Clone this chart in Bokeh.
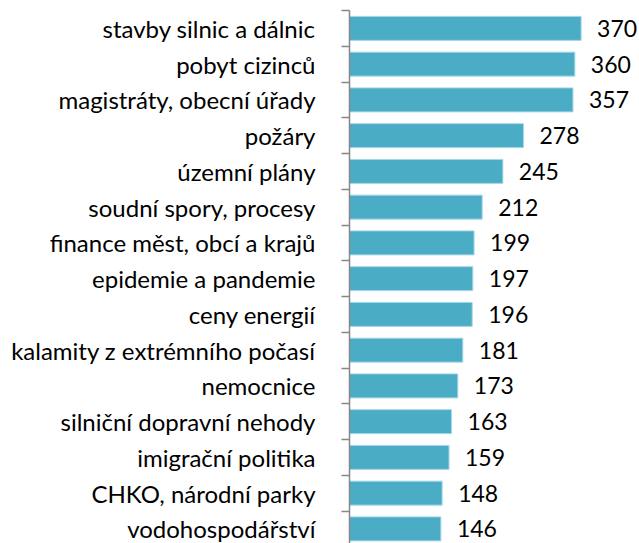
from bokeh.plotting import figure
from bokeh.models import Range1d, FixedTicker, ColumnDataSource
from bokeh.core.properties import value
from bokeh.embed import file_html
from bokeh.resources import INLINE

categories = [
    "stavby silnic a dálnic",
    "pobyt cizinců",
    "magistráty, obecní úřady",
    "požáry",
    "územní plány",
    "soudní spory, procesy",
    "finance měst, obcí a krajů",
    "epidemie a pandemie",
    "ceny energií",
    "kalamity z extrémního počasí",
    "nemocnice",
    "silniční dopravní nehody",
    "imigrační politika",
    "CHKO, národní parky",
    "vodohospodářství",
]
values = [370, 360, 357, 278, 245, 212, 199, 197, 196, 181, 173, 163, 159, 148, 146]

FONT = "Lato"
W, H = 639, 543
LEFT = 349
TOP = 10
PITCH = 35.75
PX_PER_UNIT = 0.626

n = len(categories)
pos = list(range(n))
frame_h = H - TOP
y_bottom = -0.5 + frame_h / PITCH
x_end = (W - LEFT) / PX_PER_UNIT

src = ColumnDataSource(dict(y=pos, v=values, lab=[str(x) for x in values]))

p = figure(width=W, height=H, output_backend="svg", toolbar_location=None,
           x_range=Range1d(0, x_end), y_range=Range1d(y_bottom, -0.5),
           min_border_left=LEFT, min_border_top=TOP, min_border_bottom=0,
           min_border_right=0, outline_line_color=None)

p.hbar(y="y", right="v", left=0, height=24 / PITCH, source=src,
       fill_color="#4bacc6", line_color="#a8d8e6", line_width=1)

p.text(x="v", y="y", text="lab", source=src, x_offset=16, y_offset=0,
       text_font=value(FONT), text_font_size="23px", text_color="#000000",
       text_align="left", text_baseline="middle")

p.xaxis.visible = False
p.xgrid.visible = False
p.ygrid.visible = False

ax = p.yaxis[0]
ax.ticker = FixedTicker(ticks=pos, minor_ticks=[i - 0.5 for i in range(n + 1)])
ax.major_label_overrides = {i: c for i, c in enumerate(categories)}
ax.major_tick_out = 0
ax.major_tick_in = 0
ax.minor_tick_out = 8
ax.minor_tick_in = 0
ax.minor_tick_line_color = "#868686"
ax.minor_tick_line_width = 1.5
ax.axis_line_color = "#868686"
ax.axis_line_width = 1.5
ax.major_label_standoff = 26
ax.major_label_text_font = FONT
ax.major_label_text_font_size = "24px"
ax.major_label_text_color = "#000000"

open("out.html", "w").write(file_html(p, INLINE))
